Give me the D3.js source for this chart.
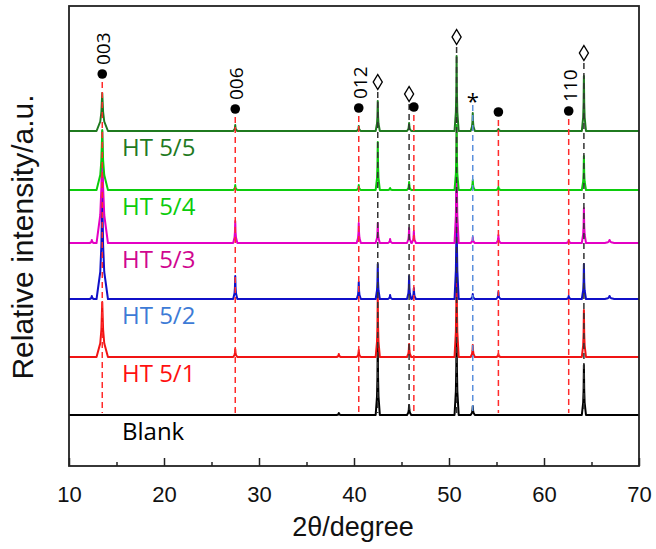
<!DOCTYPE html>
<html>
<head>
<meta charset="utf-8">
<script src="https://cdn.jsdelivr.net/npm/d3@7"></script>
<style>
body { margin: 0; background: #fff; }
</style>
</head>
<body>
<svg id="chart" width="656" height="549"></svg>
<script>
// peaks: [2theta, height above own baseline, half base width (optional)]
var blankPeaks = [[38.4, 2], [42.5, 75], [45.8, 10], [50.8, 95], [52.5, 9], [64.2, 50]];
var ht1Peaks = [[13.5, 55, 0.6], [27.5, 8], [38.4, 3], [40.5, 7], [42.5, 62], [45.8, 13], [50.8, 100], [52.5, 12], [55.2, 3], [64.2, 47]];
var ht2Peaks = [[12.4, 3], [13.5, 108, 0.6], [27.5, 23], [40.5, 17], [42.5, 35], [43.8, 4], [45.8, 23], [46.3, 11], [50.8, 115], [52.5, 5], [55.2, 7], [62.6, 3], [64.2, 35], [66.9, 3, 0.5]];
var ht3Peaks = [[12.4, 3], [13.5, 112, 0.6], [27.5, 22], [40.5, 20], [42.5, 20], [43.8, 4], [45.8, 15], [46.3, 12], [50.8, 110], [52.5, 6], [55.2, 8], [62.6, 3], [64.2, 35], [66.9, 3, 0.5]];
var ht4Peaks = [[13.5, 60, 0.6], [27.5, 5], [40.5, 5], [42.5, 48], [43.8, 2], [45.8, 8], [50.8, 65], [52.5, 10], [55.2, 3], [64.2, 34]];
var ht5Peaks = [[13.5, 38, 0.6], [27.5, 6], [40.5, 5], [42.5, 30], [45.8, 8], [50.8, 75], [52.5, 18], [55.2, 2], [64.2, 55]];

var seriesNames = ["Blank", "HT 5/1", "HT 5/2", "HT 5/3", "HT 5/4", "HT 5/5"];
var seriesPeaks = [blankPeaks, ht1Peaks, ht2Peaks, ht3Peaks, ht4Peaks, ht5Peaks];
var seriesOffsets = [51, 109, 167, 223, 276, 335];
var lineColors = ["#000000", "#f01414", "#1010c8", "#e400c4", "#0ccc0c", "#1f7a1f"];
var labelColors = ["#000000", "#ff1010", "#3d7bd6", "#d0068f", "#0ccc0c", "#1f7a1f"];

// reflection markers: [2theta, level, label]
var circleMarks = [[13.5, 392, "003"], [27.5, 357, "006"], [40.5, 358, "012"], [46.3, 359, ""], [55.2, 354, ""], [62.6, 355, "110"]];
var diamondMarks = [[42.5, 384], [45.8, 372], [50.8, 429], [64.2, 413]];
var starMarks = [[52.5, 369]];
var dashEnd = 53;

var xTicks = [10, 20, 30, 40, 50, 60, 70];
var xMinor = [15, 25, 35, 45, 55, 65];

var svg = d3.select("#chart");
var pLeft = 69, pRight = 639, pTop = 6, pBottom = 466;

var x = d3.scaleLinear().domain([10, 70]).range([pLeft, pRight]);
var y = d3.scaleLinear().domain([0, 460]).range([pBottom, pTop]);

// peak outline relative to top: [fraction of half base, fraction of height]
var shape = [[-1, 0], [-0.35, 0.25], [-0.15, 0.5], [0, 1], [0.15, 0.5], [0.35, 0.25], [1, 0]];

function tracePoints(peaks, off) {
    var pts = [[10, off]];
    peaks.forEach(function (p) {
        var w = p[2] || 0.22;
        shape.forEach(function (s) {
            pts.push([p[0] + s[0] * w, off + p[1] * s[1]]);
        });
    });
    pts.push([70, off]);
    return pts;
}

var line = d3.line()
    .x(function (d) { return x(d[0]); })
    .y(function (d) { return y(d[1]); });

var traces = svg.append("g");
seriesPeaks.forEach(function (peaks, i) {
    traces.append("path")
        .attr("d", line(tracePoints(peaks, seriesOffsets[i])))
        .attr("fill", "none")
        .attr("stroke", lineColors[i])
        .attr("stroke-width", 2)
        .attr("stroke-linejoin", "round");
    svg.append("text")
        .attr("x", 122)
        .attr("y", y(seriesOffsets[i]) + 25)
        .attr("fill", labelColors[i])
        .style("font-family", "'Open Sans', sans-serif")
        .style("font-size", "24px")
        .text(seriesNames[i]);
});

// dashed guide lines
var guides = svg.append("g").attr("stroke-width", 1.5).attr("stroke-dasharray", "6,4");
circleMarks.forEach(function (m) {
    guides.append("line").attr("x1", x(m[0])).attr("x2", x(m[0]))
        .attr("y1", y(m[1]) + 8).attr("y2", y(dashEnd)).attr("stroke", "#ff2a2a");
});
diamondMarks.forEach(function (m) {
    guides.append("line").attr("x1", x(m[0])).attr("x2", x(m[0]))
        .attr("y1", y(m[1]) + 10).attr("y2", y(dashEnd)).attr("stroke", "#333");
});
starMarks.forEach(function (m) {
    guides.append("line").attr("x1", x(m[0])).attr("x2", x(m[0]))
        .attr("y1", y(m[1]) + 8).attr("y2", y(dashEnd)).attr("stroke", "#5b8fdc");
});

// markers
circleMarks.forEach(function (m) {
    svg.append("circle").attr("cx", x(m[0])).attr("cy", y(m[1])).attr("r", 4.8).attr("fill", "#000");
    if (m[2]) {
        var tx = x(m[0]) + 8, ty = y(m[1]) - 9;
        svg.append("text")
            .attr("transform", "translate(" + tx + "," + ty + ") rotate(-90)")
            .style("font-family", "'Open Sans', sans-serif")
            .style("font-size", "19px")
            .text(m[2]);
    }
});
diamondMarks.forEach(function (m) {
    var cx = x(m[0]), cy = y(m[1]);
    svg.append("path")
        .attr("d", "M" + cx + "," + (cy - 7.5) + "L" + (cx + 4.5) + "," + cy + "L" + cx + "," + (cy + 7.5) + "L" + (cx - 4.5) + "," + cy + "Z")
        .attr("fill", "#fff").attr("stroke", "#000").attr("stroke-width", 1.4);
});
starMarks.forEach(function (m) {
    svg.append("text")
        .attr("x", x(m[0])).attr("y", y(m[1]) + 12)
        .attr("text-anchor", "middle")
        .style("font-family", "'Open Sans', sans-serif")
        .style("font-size", "22px")
        .text("*");
});

// frame + axis
svg.append("rect")
    .attr("x", pLeft).attr("y", pTop)
    .attr("width", pRight - pLeft).attr("height", pBottom - pTop)
    .attr("fill", "none").attr("stroke", "#222").attr("stroke-width", 1.8);

var xAxis = svg.append("g")
    .attr("transform", "translate(0," + pBottom + ")")
    .call(d3.axisBottom(x).tickValues(xTicks).tickSize(-8).tickPadding(20).tickFormat(d3.format("d")));
xAxis.select(".domain").remove();
xAxis.selectAll("line").attr("stroke", "#222").attr("stroke-width", 1.5);
xAxis.selectAll("text")
    .style("font-family", "'Liberation Sans', Arial, sans-serif")
    .style("font-size", "22px")
    .attr("fill", "#111");

var xMinorAxis = svg.append("g")
    .attr("transform", "translate(0," + pBottom + ")")
    .call(d3.axisBottom(x).tickValues(xMinor).tickSize(-4).tickFormat(""));
xMinorAxis.select(".domain").remove();
xMinorAxis.selectAll("line").attr("stroke", "#222").attr("stroke-width", 1.5);

svg.append("text")
    .attr("x", 353).attr("y", 536)
    .attr("text-anchor", "middle")
    .style("font-family", "'Liberation Sans', Arial, sans-serif")
    .style("font-size", "27px")
    .attr("fill", "#111")
    .text("2\u03b8/degree");

svg.append("text")
    .attr("transform", "translate(33,237) rotate(-90)")
    .attr("text-anchor", "middle")
    .style("font-family", "'Liberation Sans', Arial, sans-serif")
    .style("font-size", "30px")
    .attr("fill", "#111")
    .text("Relative intensity/a.u.");
</script>
</body>
</html>
